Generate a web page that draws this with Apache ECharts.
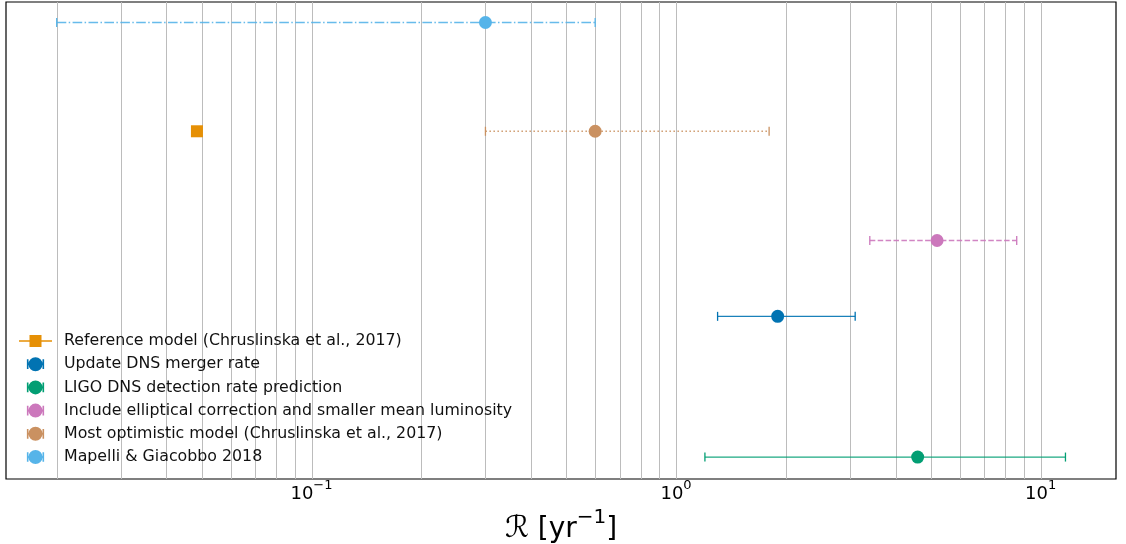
<!DOCTYPE html>
<html>
<head>
<meta charset="utf-8">
<script src="https://cdn.jsdelivr.net/npm/echarts@6/dist/echarts.min.js"></script>
<style>
html,body{margin:0;padding:0;background:#fff;}
#chart{width:1126px;height:544px;}
</style>
</head>
<body>
<div id="chart"></div>
<script>
// ---- data ----
const labels = [
  'Reference model (Chruslinska et al., 2017)',
  'Update DNS merger rate',
  'LIGO DNS detection rate prediction',
  'Include elliptical correction and smaller mean luminosity',
  'Most optimistic model (Chruslinska et al., 2017)',
  'Mapelli & Giacobbo 2018'
];
const rates = [0.0485, 1.9, 4.6, 5.2, 0.6, 0.3];
const lowerBounds = [null, 1.3, 1.2, 3.4, 0.3, 0.02];
const upperBounds = [null, 3.1, 11.7, 8.6, 1.8, 0.6];
// vertical row position of each entry (arbitrary units 0..100)
const rows = [72.9, 34.1, 4.6, 50.0, 72.9, 95.7];
const gridValues = [0.02,0.03,0.04,0.05,0.06,0.07,0.08,0.09,
  0.1,0.2,0.3,0.4,0.5,0.6,0.7,0.8,0.9,
  1,2,3,4,5,6,7,8,9,10];
const xMin = 0.01452, xMax = 16.1;

// ---- styles ----
const colors = ['#e69005','#0173b2','#029e73','#cc78bc','#ca9161','#56b4e9'];
const dashes = [null, null, null, [5.5,2.4], [1.5,2.5], [9.6,2.4,1.5,2.4]];
const FONT = 'DejaVu Sans';

const errIcon = 'path://M0,2.5h1.5v3.75h13v-3.75h1.5v9h-1.5v-3.75h-13v3.75h-1.5z M14.5,7a6.5,6.5 0 1,1 -13,0a6.5,6.5 0 1,1 13,0z';
const refIcon = 'path://M0,6.25h33v1.5h-33z M10.5,1h12v12h-12z';

function errRender(color, dash) {
  return function (params, api) {
    const y = api.value(3);
    const c = api.coord([api.value(0), y]);
    const l = api.coord([api.value(1), y]);
    const h = api.coord([api.value(2), y]);
    const cap = 4.5;
    const lineStyle = { stroke: color, lineWidth: 1.3, opacity: 0.9 };
    if (dash) lineStyle.lineDash = dash;
    return {
      type: 'group',
      children: [
        { type: 'line', shape: { x1: l[0], y1: l[1], x2: h[0], y2: h[1] }, style: lineStyle },
        { type: 'line', shape: { x1: l[0], y1: l[1] - cap, x2: l[0], y2: l[1] + cap }, style: { stroke: color, lineWidth: 1.3 } },
        { type: 'line', shape: { x1: h[0], y1: h[1] - cap, x2: h[0], y2: h[1] + cap }, style: { stroke: color, lineWidth: 1.3 } },
        { type: 'circle', shape: { cx: c[0], cy: c[1], r: 6.5 }, style: { fill: color } }
      ]
    };
  };
}

const series = [];
// grid lines drawn through the x scale
series.push({
  type: 'custom',
  name: '__grid',
  silent: true,
  z: 1,
  data: gridValues.map(v => [v, 0]),
  encode: { x: 0, y: 1 },
  renderItem: function (params, api) {
    const cs = params.coordSys;
    const x = Math.round(api.coord([api.value(0), 0])[0]) + 0.5;
    return { type: 'line', shape: { x1: x, y1: cs.y, x2: x, y2: cs.y + cs.height },
      style: { stroke: '#bcbcbc', lineWidth: 1 } };
  }
});

labels.forEach((name, i) => {
  if (lowerBounds[i] == null) {
    series.push({
      type: 'scatter', name: name, z: 4,
      symbol: 'rect', symbolSize: 12,
      itemStyle: { color: colors[i], opacity: 1 },
      data: [[rates[i], rows[i]]]
    });
  } else {
    series.push({
      type: 'custom', name: name, z: 3,
      itemStyle: { color: colors[i] },
      data: [[rates[i], lowerBounds[i], upperBounds[i], rows[i]]],
      encode: { x: [0, 1, 2], y: 3 },
      renderItem: errRender(colors[i], dashes[i])
    });
  }
});

const chart = echarts.init(document.getElementById('chart'), null, { renderer: 'canvas' });
chart.setOption({
  animation: false,
  backgroundColor: '#fff',
  grid: { left: 6, right: 10, top: 2, bottom: 65, outerBoundsMode: 'none', containLabel: false,
    show: true, borderColor: '#000', borderWidth: 1.2, backgroundColor: 'transparent' },
  xAxis: {
    type: 'log', logBase: 10, min: xMin, max: xMax,
    axisLine: { show: false },
    axisTick: { show: false },
    splitLine: { show: false },
    axisLabel: {
      margin: 0,
      showMinLabel: false, showMaxLabel: false,
      formatter: function (v) {
        const lg = Math.log10(v);
        const e = Math.round(lg);
        if (Math.abs(lg - e) > 1e-6) return '';
        return '{b|10}{s|' + (e < 0 ? '\u2212' : '') + Math.abs(e) + '}';
      },
      rich: {
        b: { fontFamily: FONT, fontSize: 18, color: '#000', verticalAlign: 'bottom', lineHeight: 24 },
        s: { fontFamily: FONT, fontSize: 13, color: '#000', verticalAlign: 'top', lineHeight: 14 }
      }
    },
    name: '{r|\u211B}{t| [yr}{s|\u22121}{t|]}',
    nameLocation: 'middle',
    nameGap: 18,
    nameTextStyle: {
      rich: {
        r: { fontFamily: FONT, fontSize: 30, color: '#000', fontStyle: 'italic', verticalAlign: 'bottom', lineHeight: 36 },
        t: { fontFamily: FONT, fontSize: 28, color: '#000', verticalAlign: 'bottom', lineHeight: 36 },
        s: { fontFamily: FONT, fontSize: 20, color: '#000', verticalAlign: 'top', lineHeight: 22 }
      }
    }
  },
  yAxis: { type: 'value', min: 0, max: 100, show: false },
  legend: {
    orient: 'vertical', left: 14, top: 328,
    itemWidth: 33, itemHeight: 14, itemGap: 7.2,
    symbolKeepAspect: true,
    textStyle: { fontFamily: FONT, fontSize: 15.8, color: '#111', lineHeight: 16, padding: [0, 0, 0, 7] },
    itemStyle: { borderWidth: 0 },
    data: labels.map((n, i) => ({ name: n, icon: i === 0 ? refIcon : errIcon, itemStyle: { color: colors[i] } }))
  },
  series: series
});
</script>
</body>
</html>
